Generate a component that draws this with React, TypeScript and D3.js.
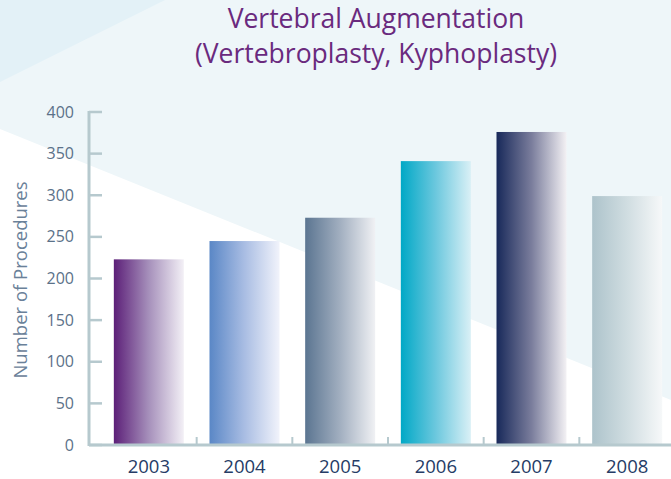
import React from "react";
import * as d3 from "d3";

const years = ["2003", "2004", "2005", "2006", "2007", "2008"];
const procedures = [223, 245, 273, 341, 376, 299];
const yTicks = [0, 50, 100, 150, 200, 250, 300, 350, 400];
const gradStops: [string, string, string][] = [
  ["#5c1f78", "#a690bb", "#f3f0f6"],
  ["#5a87c6", "#a9bde3", "#f1f3fb"],
  ["#5b7591", "#a2afc0", "#f0f1f4"],
  ["#00a8c6", "#6cc8de", "#d9f0f6"],
  ["#18295a", "#7a7d9c", "#f3f1f4"],
  ["#adc3cb", "#d0dde1", "#f6f8f9"],
];

const W = 671;
const H = 479;
const left = 89;
const bottom = 445;
const top = 112;

export default function App() {
  const x = d3.scaleBand<string>().domain(years).range([101, 675]).paddingInner(0);
  const y = d3.scaleLinear().domain([0, 400]).range([bottom, top]);
  const barW = 70;
  const axisColor = "#b6c9ce";
  const font = "'Open Sans', sans-serif";
  return (
    <svg width={W} height={H} style={{ position: "absolute", left: 0, top: 0, display: "block" }}>
      <defs>
        {gradStops.map((s, i) => (
          <linearGradient key={i} id={`g${i}`} x1="0" y1="0" x2="1" y2="0">
            <stop offset="0" stopColor={s[0]} />
            <stop offset="0.5" stopColor={s[1]} />
            <stop offset="1" stopColor={s[2]} />
          </linearGradient>
        ))}
      </defs>
      <rect x={0} y={0} width={W} height={H} fill="#eef6f9" />
      <polygon points={`0,0 165,0 0,82`} fill="#e3f1f7" />
      <polygon points={`0,129 ${W},400 ${W},${H} 0,${H}`} fill="#ffffff" />
      <text x={376} y={28} textAnchor="middle" fontFamily={font} fontSize={26.5} fill="#6a2a7e">
        Vertebral Augmentation
      </text>
      <text x={376} y={63} textAnchor="middle" fontFamily={font} fontSize={26.5} fill="#6a2a7e">
        (Vertebroplasty, Kyphoplasty)
      </text>
      {years.map((yr, i) => {
        const cx = (x(yr) as number) + x.bandwidth() / 2;
        return (
          <rect
            key={yr}
            x={cx - barW / 2}
            y={y(procedures[i])}
            width={barW}
            height={bottom - y(procedures[i])}
            fill={`url(#g${i})`}
          />
        );
      })}
      {/* y axis */}
      <line x1={left} y1={top - 1} x2={left} y2={bottom + 1} stroke={axisColor} strokeWidth={3} />
      {yTicks.map((t) => (
        <g key={t}>
          <line x1={left} x2={102} y1={y(t)} y2={y(t)} stroke={axisColor} strokeWidth={2.5} />
          <text
            x={74}
            y={y(t)}
            dy="0.35em"
            textAnchor="end"
            fontFamily={font}
            fontSize={16}
            fill="#5b7189"
          >
            {t}
          </text>
        </g>
      ))}
      {/* x axis */}
      <line x1={left} y1={bottom} x2={W} y2={bottom} stroke={axisColor} strokeWidth={3} />
      {years.slice(1).map((yr) => (
        <line
          key={yr}
          x1={x(yr) as number}
          x2={x(yr) as number}
          y1={bottom}
          y2={bottom - 8}
          stroke={axisColor}
          strokeWidth={2}
        />
      ))}
      {years.map((yr) => (
        <text
          key={yr}
          x={(x(yr) as number) + x.bandwidth() / 2}
          y={473}
          textAnchor="middle"
          fontFamily={font}
          fontSize={18.5}
          fill="#263c66"
        >
          {yr}
        </text>
      ))}
      <text
        transform={`translate(27,280) rotate(-90)`}
        textAnchor="middle"
        fontFamily={font}
        fontSize={18.5}
        fill="#6a8199"
      >
        Number of Procedures
      </text>
    </svg>
  );
}
